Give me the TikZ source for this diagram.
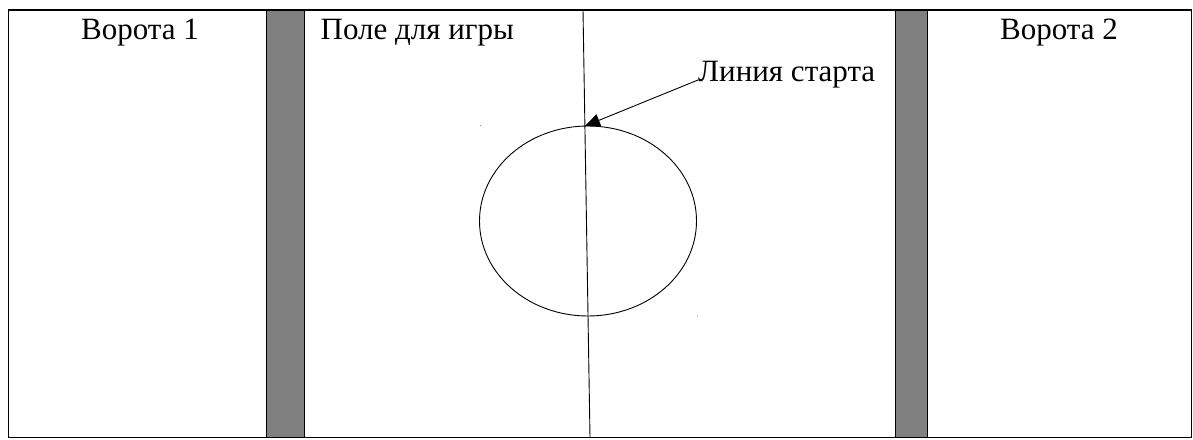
\documentclass[tikz,border=0pt]{standalone}
\usepackage{fontspec}
\setmainfont{Liberation Serif}
\usetikzlibrary{arrows.meta,shapes.geometric}
\begin{document}
\begin{tikzpicture}[x=1pt,y=-1pt,
  bar/.style={fill={rgb,255:red,128;green,128;blue,128},draw=black,line width=1pt},
  lbltext/.style={font=\fontsize{31}{36}\selectfont,inner sep=0pt},
  thin/.style={draw=black,line width=0.9pt}]
\useasboundingbox (0,0) rectangle (1193,439);
\draw[line width=1.2pt] (8.5,10) rectangle (1191.5,437.5);
\node[bar,minimum width=38pt,minimum height=427.5pt,inner sep=0pt] (bar1) at (285,223.75) {};
\node[bar,minimum width=32pt,minimum height=427.5pt,inner sep=0pt] (bar2) at (911,223.75) {};
\coordinate (ltop) at (583,10);
\coordinate (lbot) at (590,437.5);
\draw[thin] (ltop) -- (lbot);
\node[thin,ellipse,minimum width=217pt,minimum height=190pt,inner sep=0pt] (circ) at (588,221) {};
\fill[gray] (480.7,125.7) circle (0.6pt) (697.3,316) circle (0.6pt);
\node[lbltext,anchor=base] (g1) at (140,39) {Ворота 1};
\node[lbltext,anchor=base] (g2) at (1059,39) {Ворота 2};
\node[lbltext,anchor=base west] (field) at (320.5,39) {Поле для игры};
\node[lbltext,anchor=base west] (start) at (698,81) {Линия старта};
\coordinate (ctop) at (585,126);
\draw[thin,-{Triangle[length=15pt,width=13pt]}] ([yshift=1pt]start.base west) -- (ctop);
\end{tikzpicture}
\end{document}
